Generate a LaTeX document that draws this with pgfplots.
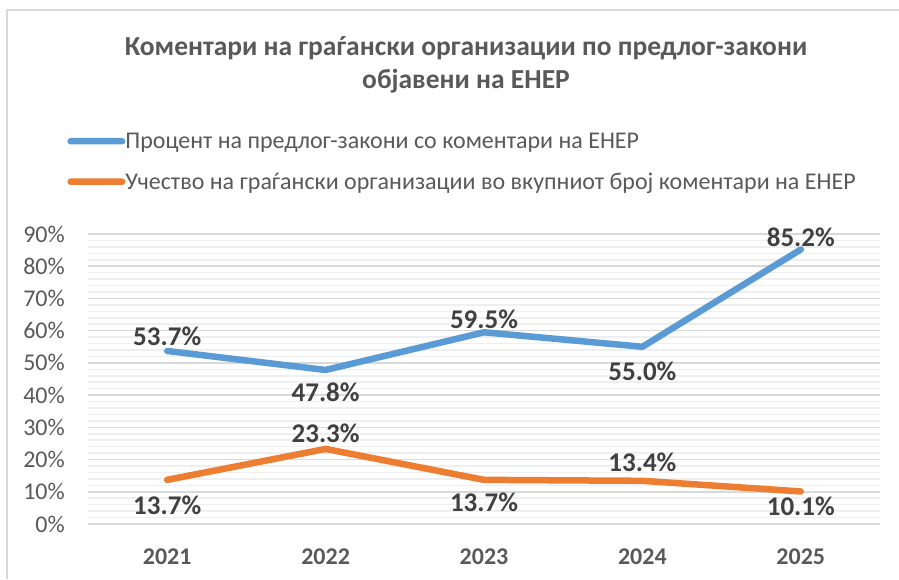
\documentclass[border=0pt]{standalone}
\usepackage{fontspec}
\setmainfont{Carlito}
\usepackage{pgfplots}
\pgfplotsset{compat=1.18}
\usepackage{pgfplotstable}
\definecolor{cblue}{HTML}{5B9BD5}
\definecolor{corange}{HTML}{ED7D31}
\definecolor{tgray}{HTML}{595959}
\definecolor{dgray}{HTML}{404040}
\definecolor{gmaj}{HTML}{D9D9D9}
\definecolor{gmin}{HTML}{EFEFEF}
\definecolor{bord}{HTML}{D9D9D9}

\pgfplotstableread{
x blue bdy orange ody
0 53.7 15 13.7 -25
1 47.8 -22 23.3 16
2 59.5 13 13.7 -22
3 55.0 -25 13.4 19
4 85.2 12 10.1 -15
}\datatable

\begin{document}
\begin{tikzpicture}[x=1pt,y=1pt]
\path[use as bounding box] (0,0) rectangle (899,579);
\draw[bord, line width=1.5pt] (7,0) -- (7,569) -- (899,569);
\node[align=center, font=\fontsize{27.5}{33}\selectfont\bfseries, text=tgray] at (466,514) {Коментари на граѓански организации по предлог-закони\\објавени на ЕНЕР};
\begin{axis}[
  at={(88pt,55pt)}, anchor=south west,
  scale only axis, width=792pt, height=290pt,
  xmin=-0.5, xmax=4.5, ymin=0, ymax=90,
  axis line style={draw=none},
  major tick length=0pt, minor tick length=0pt,
  ymajorgrids, yminorgrids, minor y tick num=4,
  major grid style={gmaj, line width=1.5pt},
  minor grid style={gmin, line width=1.5pt},
  ytick={0,10,...,90},
  yticklabel={\pgfmathprintnumber{\tick}\%},
  yticklabel style={font=\fontsize{24}{28}\selectfont, text=tgray, anchor=east, inner sep=0pt, xshift=-23pt},
  xtick={0,1,2,3,4},
  xticklabels={2021,2022,2023,2024,2025},
  xticklabel style={font=\fontsize{24}{28}\selectfont\bfseries, text=tgray, anchor=north, inner sep=0pt, yshift=-25pt},
  /pgf/number format/assume math mode=true,
  clip=false,
  legend cell align=left,
  legend style={at={(axis description cs:-0.026,1.349)}, anchor=north west, draw=none, fill=none,
     inner sep=0pt, outer sep=0pt, font=\fontsize{24}{28}\selectfont, text=tgray, row sep=23pt,
     nodes={inner sep=0pt},
     /tikz/every even column/.append style={column sep=4pt}},
]
\addplot[cblue, line width=6.5pt, line cap=round, line join=round, mark=none,
  legend image code/.code={\path[fill=cblue, draw=none, line width=0pt, rounded corners=3.2pt] (0pt,-3.25pt) rectangle (58pt,3.25pt);},
  nodes near coords={\pgfmathprintnumber[fixed,fixed zerofill,precision=1]{\pgfplotspointmeta}\%},
  point meta=y,
  visualization depends on={\thisrow{bdy} \as \dy},
  every node near coord/.append style={anchor=center, yshift=\dy pt, font=\fontsize{27}{31}\selectfont\bfseries, text=dgray}
] table[x=x,y=blue]{\datatable};
\addlegendentry{Процент на предлог-закони со коментари на ЕНЕР}
\addplot[corange, line width=6.5pt, line cap=round, line join=round, mark=none,
  legend image code/.code={\path[fill=corange, draw=none, line width=0pt, rounded corners=3.2pt] (0pt,-3.25pt) rectangle (58pt,3.25pt);},
  nodes near coords={\pgfmathprintnumber[fixed,fixed zerofill,precision=1]{\pgfplotspointmeta}\%},
  point meta=y,
  visualization depends on={\thisrow{ody} \as \dy},
  every node near coord/.append style={anchor=center, yshift=\dy pt, font=\fontsize{27}{31}\selectfont\bfseries, text=dgray}
] table[x=x,y=orange]{\datatable};
\addlegendentry{Учество на граѓански организации во вкупниот број коментари на ЕНЕР}
\end{axis}
\end{tikzpicture}
\end{document}
